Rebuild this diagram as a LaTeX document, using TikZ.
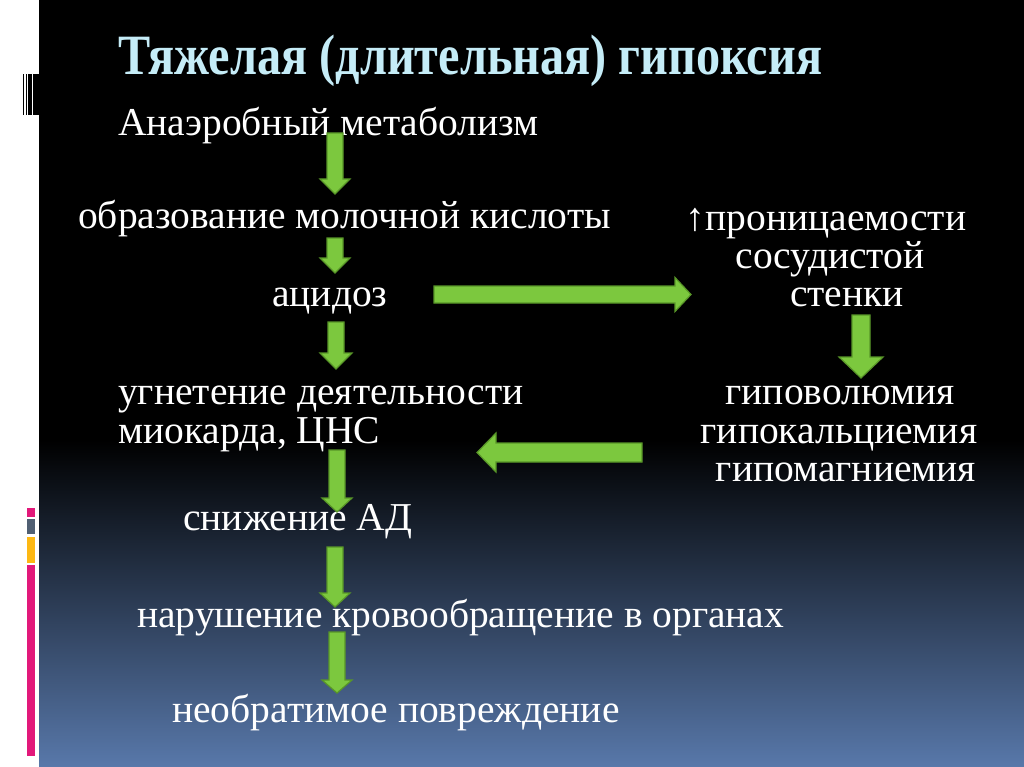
\documentclass[tikz,border=0pt]{standalone}
\usepackage{fontspec}
\setmainfont{Liberation Serif}
\definecolor{titleblue}{RGB}{197,236,247}
\definecolor{agreen}{RGB}{124,200,62}
\definecolor{agreendark}{RGB}{88,150,40}
\definecolor{bgbottom}{RGB}{88,120,170}
\definecolor{barpink}{RGB}{226,24,122}
\definecolor{bargray}{RGB}{80,95,115}
\definecolor{barorange}{RGB}{253,184,19}
\tikzset{
  txt/.style={text=white, inner sep=0pt, font=\fontsize{39.5}{44}\selectfont},
  barrow/.style={fill=agreen, draw=agreendark, line width=1.2pt, line join=miter},
}
% down arrow: x, top, head base, tip, half shaft, half head
\newcommand\blockdown[6]{%
  \draw[barrow] (#1-#5,#2) -- (#1+#5,#2) -- (#1+#5,#3) -- (#1+#6,#3) -- (#1,#4) -- (#1-#6,#3) -- (#1-#5,#3) -- cycle;}
% horizontal arrow: y, start, head base, tip, half shaft, half head
\newcommand\blockhor[6]{%
  \draw[barrow] (#2,#1-#5) -- (#3,#1-#5) -- (#3,#1-#6) -- (#4,#1) -- (#3,#1+#6) -- (#3,#1+#5) -- (#2,#1+#5) -- cycle;}
\begin{document}
\begin{tikzpicture}[x=1pt,y=-1pt]
\useasboundingbox (0,0) rectangle (1024,767);
% background
\fill[white] (0,0) rectangle (39,767);
\fill[black] (39,0) rectangle (1024,440);
\shade[top color=black, bottom color=bgbottom] (39,440) rectangle (1024,767);
% barcode
\fill[black] (22.5,74) rectangle (24,115);
\fill[black] (25.8,74) rectangle (27.3,115);
\fill[black] (28.4,74) rectangle (31.6,115);
\fill[black] (33.2,74) rectangle (39,115);
% coloured bars
\fill[barpink] (27,508) rectangle (35,517);
\fill[bargray] (27,519) rectangle (35,534);
\fill[barorange] (27,537) rectangle (35,563);
\fill[barpink] (27,565) rectangle (35,756);
% title
\node[inner sep=0pt, anchor=base west, text=titleblue] (title) at (118,75)
  {\fontsize{57}{60}\selectfont\bfseries\resizebox{704pt}{\height}{Тяжелая (длительная) гипоксия}};
% texts
\node[txt, anchor=base west] (t1) at (118,136) {Анаэробный метаболизм};
\node[txt, anchor=base west] (t2) at (78,229) {образование молочной кислоты};
\node[txt, anchor=base west] (t3) at (272,306) {ацидоз};
\node[txt, anchor=base west] (t4a) at (118,404) {угнетение деятельности};
\node[txt, anchor=base west] (t4b) at (118,443) {миокарда, ЦНС};
\node[txt, anchor=base west] (t5) at (183,530) {снижение АД};
\node[txt, anchor=base west] (t6) at (137,627) {нарушение кровообращение в органах};
\node[txt, anchor=base west] (t7) at (172,722) {необратимое повреждение};
\node[txt, anchor=base] (r1a) at (826,230) {↑проницаемости};
\node[txt, anchor=base] (r1b) at (830,268) {сосудистой};
\node[txt, anchor=base] (r1c) at (847,306) {стенки};
\node[txt, anchor=base] (r2a) at (840,404) {гиповолюмия};
\node[txt, anchor=base] (r2b) at (839,443) {гипокальциемия};
\node[txt, anchor=base] (r2c) at (846,481) {гипомагниемия};
% arrows
\blockdown{335}{133}{179}{194}{8}{15}
\blockdown{335}{238}{258}{273}{8}{15}
\blockdown{336}{322}{353}{369}{8}{16}
\blockdown{337}{450}{498}{512}{8}{15}
\blockdown{335}{547}{593}{607}{8}{15}
\blockdown{337}{632}{680}{693}{8}{15}
\blockdown{861}{315}{357}{378}{9}{22}
\blockhor{294.5}{434}{675}{691}{8.5}{17}
\blockhor{452.5}{642}{496}{477}{9.5}{19.5}
\end{tikzpicture}
\end{document}
